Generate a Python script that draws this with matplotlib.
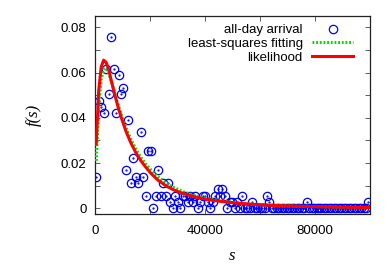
import numpy as np
import matplotlib
matplotlib.use("Agg")
import matplotlib.pyplot as plt
from matplotlib.ticker import MultipleLocator, FixedLocator

# ---- data ----
bin_width = 900
unit = 0.0028  # one arrival per bin, as a frequency
counts = [5, 17, 16, 15, 22, 18, 27, 22, 15, 21,
          18, 19, 6, 14, 4, 8, 5, 4, 12, 5,
          2, 9, 9, 0, 2, 6, 2, 4, 2, 4,
          1, 0, 2, 1, 0, 2, 2, 1, 2, 1,
          2, 0, 1, 2, 2, 1, 0, 1, 2, 3,
          2, 3, 2, 0, 1, 1, 0, 1, 0, 2,
          0, 0, 0, 1, 0, 0, 0, 0, 0, 2,
          1, 0, 0, 0, 0, 0, 0, 0, 0, 0,
          0, 0, 0, 0, 0, 1, 0, 0, 0, 0,
          0, 0, 0, 0, 0, 0, 0, 0, 0, 0,
          0, 0, 0, 0, 0, 0, 0, 0, 0, 0, 1]
s_data = [bin_width / 2 + bin_width * i for i in range(len(counts))]
f_data = [c * unit for c in counts]

s_fit = [450, 1350, 2250, 3150, 4050, 4950, 5850, 6750, 7650, 8550, 9450,
         11250, 13050, 14850, 16650, 18450, 20250, 22950, 25650, 28350,
         31950, 36450, 40950, 45450, 50850, 57150, 64350, 72450, 81450,
         90450, 99450]
f_ls = [0.021, 0.045, 0.057, 0.0615, 0.0618, 0.0600, 0.0565, 0.0528, 0.049,
        0.0452, 0.0418, 0.0356, 0.0305, 0.0262, 0.0226, 0.0196, 0.0171,
        0.0139, 0.0114, 0.0094, 0.0074, 0.0056, 0.0043, 0.0034, 0.0026,
        0.0019, 0.0014, 0.0010, 0.0007, 0.0005, 0.0004]
f_ml = [0.0285, 0.052, 0.0625, 0.0655, 0.0645, 0.0615, 0.0567, 0.0524, 0.0481,
        0.0441, 0.0405, 0.0341, 0.0289, 0.0246, 0.0211, 0.0182, 0.0156,
        0.0124, 0.0101, 0.0083, 0.0066, 0.0050, 0.0039, 0.0031, 0.0024,
        0.0018, 0.0013, 0.0010, 0.0007, 0.0005, 0.0004]

labels = ["all-day arrival", "least-squares fitting", "likelihood"]
x_ticks = [0, 40000, 80000]
y_ticks = [0, 0.02, 0.04, 0.06, 0.08]

# ---- figure ----
W, H = 392, 274
fig = plt.figure(figsize=(W / 100, H / 100), dpi=100)
ax = fig.add_axes([95 / W, 1 - 214 / H, 275 / W, 198 / H])

ax.plot(s_data, f_data, linestyle="none", marker="o", markersize=6,
        markerfacecolor="none", markeredgecolor="#0000ff",
        markeredgewidth=0.9, label=labels[0], zorder=2)
ax.plot(s_data, f_data, linestyle="none", marker=".", markersize=1.2,
        color="#0000ff", zorder=2)
ax.plot(s_fit, f_ls, color="#00e000", linewidth=2.2, linestyle=(0, (0.6, 0.6)),
        label=labels[1], zorder=3)
ax.plot(s_fit, f_ml, color="#ff0000", linewidth=2.2, label=labels[2], zorder=4)

ax.set_xlim(0, 100000)
ax.set_ylim(-0.0025, 0.085)

sans = "Liberation Sans"
ax.xaxis.set_major_locator(FixedLocator(x_ticks))
ax.xaxis.set_minor_locator(MultipleLocator(20000))
ax.yaxis.set_major_locator(FixedLocator(y_ticks))
ax.yaxis.set_minor_locator(MultipleLocator(0.01))
ax.set_xticklabels([str(v) for v in x_ticks], family=sans, fontsize=9.5)
ax.set_yticklabels(["0", "0.02", "0.04", "0.06", "0.08"], family=sans, fontsize=9.5)
ax.tick_params(which="both", direction="in", top=True, right=True,
               length=3.5, width=0.6, color="#444444")
ax.tick_params(axis="x", which="both", pad=8)
ax.tick_params(axis="y", which="both", pad=6)
for sp in ax.spines.values():
    sp.set_linewidth(0.9)
    sp.set_color("#222222")

ax.set_xlabel("s", family="Liberation Serif", style="italic", fontsize=12, labelpad=8)
ax.set_ylabel("f(s)", family="Liberation Serif", style="italic", fontsize=12, labelpad=14)

leg = ax.legend(loc="upper right", bbox_to_anchor=((353 - 95) / 275, (214 - 24) / 198),
                frameon=False, markerfirst=False, borderaxespad=0, borderpad=0,
                handlelength=3.1, handletextpad=0.7, labelspacing=0.12,
                prop={"family": sans, "size": 9.5})

fig.savefig("out.png", dpi=100)
